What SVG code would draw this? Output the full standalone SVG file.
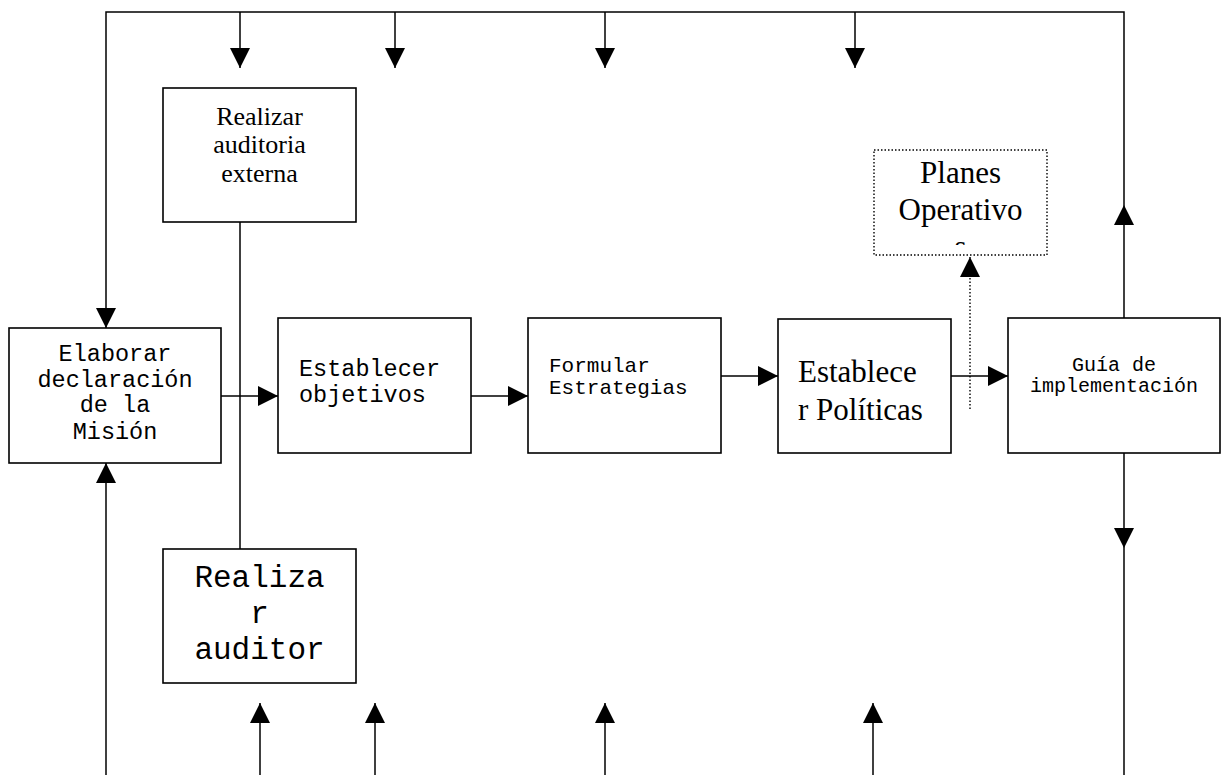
<svg xmlns="http://www.w3.org/2000/svg" width="1228" height="775" viewBox="0 0 1228 775">
<style>
.box{fill:#fff;stroke:#000;stroke-width:1.6}
.dot{fill:#fff;stroke:#000;stroke-width:1.4;stroke-dasharray:1.5 2}
.ln{fill:none;stroke:#000;stroke-width:1.5}
.arr{fill:none;stroke:#000;stroke-width:1.5;marker-end:url(#ah)}
.dl{fill:none;stroke:#000;stroke-width:1.4;stroke-dasharray:1.5 2;marker-end:url(#ah)}
.mono{font-family:"Liberation Mono","Courier New",monospace;fill:#000}
.serif{font-family:"Liberation Serif","Times New Roman",serif;fill:#000}
</style>
<defs>
<marker id="ah" markerUnits="userSpaceOnUse" markerWidth="20" markerHeight="20" viewBox="0 0 20 20" refX="20" refY="10" orient="auto">
<path d="M0,0 L20,10 L0,20 Z" fill="#000"/>
</marker>
<clipPath id="pclip"><rect x="874" y="140" width="173" height="105"/></clipPath>
</defs>
<rect width="1228" height="775" fill="#fff"/>
<g id="connectors">
<polyline class="arr" points="1124,205 1124,12 106,12 106,328"/>
<line class="arr" x1="1124" y1="318" x2="1124" y2="205"/>
<line class="arr" x1="240" y1="12" x2="240" y2="68"/>
<line class="arr" x1="395" y1="12" x2="395" y2="68"/>
<line class="arr" x1="605" y1="12" x2="605" y2="68"/>
<line class="arr" x1="855" y1="12" x2="855" y2="68"/>
<line class="arr" x1="106" y1="776" x2="106" y2="463"/>
<line class="arr" x1="260" y1="776" x2="260" y2="703"/>
<line class="arr" x1="375" y1="776" x2="375" y2="703"/>
<line class="arr" x1="605" y1="776" x2="605" y2="703"/>
<line class="arr" x1="873" y1="776" x2="873" y2="703"/>
<line class="arr" x1="1124" y1="453" x2="1124" y2="548"/>
<line class="ln" x1="1124" y1="548" x2="1124" y2="776"/>
<line class="ln" x1="240" y1="222" x2="240" y2="549"/>
<line class="arr" x1="221" y1="396" x2="278" y2="396"/>
<line class="arr" x1="471" y1="396" x2="528" y2="396"/>
<line class="arr" x1="721" y1="376" x2="778" y2="376"/>
<line class="arr" x1="951" y1="376" x2="1008" y2="376"/>
<line class="dl" x1="970" y1="409" x2="970" y2="257"/>
</g>
<g id="node-auditoria-externa">
<rect class="box" x="163" y="88" width="193" height="134"/>
<text class="serif" font-size="26" text-anchor="middle"><tspan x="259.5" y="125">Realizar</tspan><tspan x="259.5" y="153">auditoria</tspan><tspan x="259.5" y="182">externa</tspan></text>
</g>
<g id="node-elaborar">
<rect class="box" x="9" y="328" width="212" height="135"/>
<text class="mono" font-size="23.5" text-anchor="middle"><tspan x="115" y="361">Elaborar</tspan><tspan x="115" y="387">declaración</tspan><tspan x="115" y="412">de la</tspan><tspan x="115" y="439">Misión</tspan></text>
</g>
<g id="node-objetivos">
<rect class="box" x="278" y="318" width="193" height="135"/>
<text class="mono" font-size="23.5"><tspan x="299" y="376">Establecer</tspan><tspan x="299" y="402">objetivos</tspan></text>
</g>
<g id="node-estrategias">
<rect class="box" x="528" y="318" width="193" height="135"/>
<text class="mono" font-size="21"><tspan x="549" y="372">Formular</tspan><tspan x="549" y="394">Estrategias</tspan></text>
</g>
<g id="node-politicas">
<rect class="box" x="778" y="319" width="173" height="134"/>
<text class="serif" font-size="31"><tspan x="798" y="382">Establece</tspan><tspan x="798" y="420">r Políticas</tspan></text>
</g>
<g id="node-planes">
<rect class="dot" x="874" y="150" width="173" height="105"/>
<text class="serif" font-size="31" text-anchor="middle" clip-path="url(#pclip)"><tspan x="960.5" y="183">Planes</tspan><tspan x="960.5" y="220">Operativo</tspan><tspan x="960.5" y="257">s</tspan></text>
</g>
<g id="node-guia">
<rect class="box" x="1008" y="318" width="212" height="135"/>
<text class="mono" font-size="20" text-anchor="middle"><tspan x="1114" y="371">Guía de</tspan><tspan x="1114" y="392">implementación</tspan></text>
</g>
<g id="node-auditor">
<rect class="box" x="163" y="549" width="193" height="134"/>
<text class="mono" font-size="31" text-anchor="middle"><tspan x="259.5" y="587">Realiza</tspan><tspan x="259.5" y="623">r</tspan><tspan x="259.5" y="659">auditor</tspan></text>
</g>
</svg>
